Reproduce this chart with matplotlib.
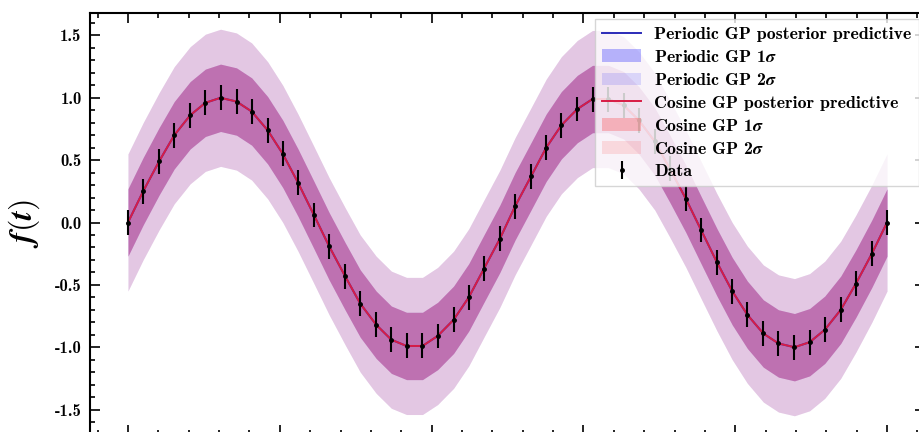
"""GP posterior predictive comparison: periodic vs cosine kernel on a sine signal."""

import matplotlib

matplotlib.use("Agg")
import matplotlib.pyplot as plt
from matplotlib.ticker import MultipleLocator

t_obs = [0.00, 0.20, 0.41, 0.61, 0.82, 1.02, 1.22, 1.43, 1.63, 1.84,
         2.04, 2.24, 2.45, 2.65, 2.86, 3.06, 3.27, 3.47, 3.67, 3.88,
         4.08, 4.29, 4.49, 4.69, 4.90, 5.10, 5.31, 5.51, 5.71, 5.92,
         6.12, 6.33, 6.53, 6.73, 6.94, 7.14, 7.35, 7.55, 7.76, 7.96,
         8.16, 8.37, 8.57, 8.78, 8.98, 9.18, 9.39, 9.59, 9.80, 10.00]
f_obs = [0.00, 0.25, 0.49, 0.70, 0.86, 0.96, 1.00, 0.97, 0.89, 0.74,
         0.55, 0.32, 0.06, -0.19, -0.43, -0.65, -0.82, -0.94, -0.99, -0.99,
         -0.91, -0.78, -0.60, -0.37, -0.13, 0.13, 0.37, 0.60, 0.78, 0.91,
         0.99, 0.99, 0.94, 0.82, 0.65, 0.43, 0.19, -0.06, -0.32, -0.55,
         -0.74, -0.89, -0.97, -1.00, -0.96, -0.86, -0.70, -0.49, -0.25, 0.00]
f_err = [0.1] * len(t_obs)

# posterior predictive mean of both GPs follows the data
periodic_mean = list(f_obs)
cosine_mean = list(f_obs)
sd_1 = 0.27
sd_2 = 0.55

plt.rcParams["font.family"] = ["cmb10", "DejaVu Serif"]
plt.rcParams["mathtext.fontset"] = "cm"
plt.rcParams["axes.unicode_minus"] = False

fig = plt.figure(figsize=(9.2, 4.32), dpi=100)
ax = fig.add_axes([90 / 920, -2.5 / 432, 835 / 920, 421.5 / 432])


def band(mean, k):
    return [m - k for m in mean], [m + k for m in mean]


lo2, hi2 = band(periodic_mean, sd_2)
lo1, hi1 = band(periodic_mean, sd_1)
ax.fill_between(t_obs, lo2, hi2, color="blue", alpha=0.12, lw=0, label=r"Periodic GP 2$\boldsymbol{\sigma}$")
ax.fill_between(t_obs, lo1, hi1, color="blue", alpha=0.27, lw=0, label=r"Periodic GP 1$\boldsymbol{\sigma}$")

lo2, hi2 = band(cosine_mean, sd_2)
lo1, hi1 = band(cosine_mean, sd_1)
ax.fill_between(t_obs, lo2, hi2, color="red", alpha=0.11, lw=0, label=r"Cosine GP 2$\boldsymbol{\sigma}$")
ax.fill_between(t_obs, lo1, hi1, color="red", alpha=0.22, lw=0, label=r"Cosine GP 1$\boldsymbol{\sigma}$")

ax.plot(t_obs, periodic_mean, color="#2b2bb8", lw=1.4, label="Periodic GP posterior predictive")
ax.plot(t_obs, cosine_mean, color="#d81c45", lw=1.4, label="Cosine GP posterior predictive")

ax.errorbar(t_obs, f_obs, yerr=f_err, fmt="o", color="black", ms=2.5,
            elinewidth=1.5, capsize=0, label="Data")

ax.set_xlim(-0.5, 10.5)
ax.set_ylim(-1.70, 1.68)
ax.set_ylabel(r"$\boldsymbol{f(t)}$", fontsize=23, labelpad=9)

ax.xaxis.set_major_locator(MultipleLocator(2))
ax.xaxis.set_minor_locator(MultipleLocator(0.4))
ax.yaxis.set_major_locator(MultipleLocator(0.5))
ax.yaxis.set_minor_locator(MultipleLocator(0.1))
ax.tick_params(which="both", direction="in", top=True, right=True, width=1.2)
ax.tick_params(which="major", length=7, labelsize=12, pad=6)
ax.tick_params(which="minor", length=3.5)
# the x tick labels sit below the visible area in the original
ax.tick_params(axis="x", labelbottom=False)
for spine in ax.spines.values():
    spine.set_linewidth(1.5)

handles, labels = ax.get_legend_handles_labels()
order = ["Periodic GP posterior predictive", r"Periodic GP 1$\boldsymbol{\sigma}$",
         r"Periodic GP 2$\boldsymbol{\sigma}$", "Cosine GP posterior predictive",
         r"Cosine GP 1$\boldsymbol{\sigma}$", r"Cosine GP 2$\boldsymbol{\sigma}$", "Data"]
lookup = dict(zip(labels, handles))
ax.legend([lookup[k] for k in order], order, loc="upper right", fontsize=12.8,
          labelspacing=0.40, handlelength=2.2, handletextpad=0.75,
          borderaxespad=0.35, borderpad=0.4, fancybox=False,
          edgecolor="#cccccc", framealpha=0.8)

fig.savefig("out.png", dpi=100)
